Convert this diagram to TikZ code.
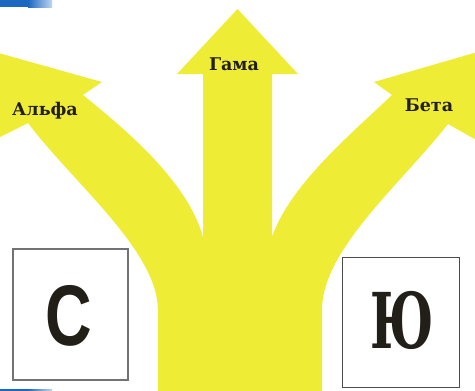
\documentclass[tikz,border=0pt]{standalone}
\usepackage{fontspec}
\setmainfont{Liberation Serif}
\newfontfamily\slabfont{DejaVu Serif}
\newfontfamily\boxsans{Liberation Sans}
\definecolor{arrowyellow}{RGB}{239,236,54}
\definecolor{labelink}{RGB}{34,30,24}
\definecolor{barblue}{RGB}{28,104,192}
\definecolor{barlight}{RGB}{190,214,242}
\tikzset{
  branchlabel/.style={anchor=base, text=labelink, font=\slabfont\bfseries\fontsize{17.5}{17.5}\selectfont, inner sep=0pt},
  letterbox/.style={fill=white},
}
\begin{document}
\begin{tikzpicture}[x=1pt,y=-1pt]
\useasboundingbox (0,0) rectangle (475,391);
\begin{scope}
\clip (0,0) rectangle (475,391);
% three-way arrow: trunk, two curved branches and a straight middle arrow
\fill[arrowyellow]
  (158,391) -- (158,310)
  .. controls (157,250) and (75,185) .. (28,123)
  -- (-12,143) -- (-30,45) -- (102,82) -- (83,95)
  .. controls (130,133) and (188,183) .. (203,237)
  -- (203,74) -- (177,74) -- (237.5,9) -- (298,74) -- (272,74) -- (272,237)
  .. controls (290,185) and (350,135) .. (392,95)
  -- (374,82) -- (505,44) -- (487,146) -- (448,124)
  .. controls (400,185) and (322,250) .. (322,310)
  -- (322,391) -- cycle;
\end{scope}
% corner bars
\fill[barblue] (0,0) rectangle (28,7);
\shade[left color=barblue, right color=barlight] (28,0) rectangle (52,7);
\fill[barblue] (0,389) rectangle (28,391);
\shade[left color=barblue, right color=barlight] (28,389) rectangle (52,391);
% branch labels
\node[branchlabel] (alfa) at (45,115) {Альфа};
\node[branchlabel] (gama) at (234,70) {Гама};
\node[branchlabel] (beta) at (429,111) {Бета};
% letter boxes
\draw[letterbox, draw=black!55, line width=1.8pt] (13,249) rectangle (128,380);
\draw[letterbox, draw=black!70, line width=1pt] (342,257) rectangle (459,387);
\node[inner sep=0pt, xscale=0.75, text=labelink, font=\boxsans\bfseries\fontsize{86}{86}\selectfont] (es) at (69,315.5) {С};
\node[inner sep=0pt, xscale=0.64, text=labelink, font=\slabfont\bfseries\fontsize{77}{77}\selectfont] (yu) at (402.5,320) {Ю};
\end{tikzpicture}
\end{document}
